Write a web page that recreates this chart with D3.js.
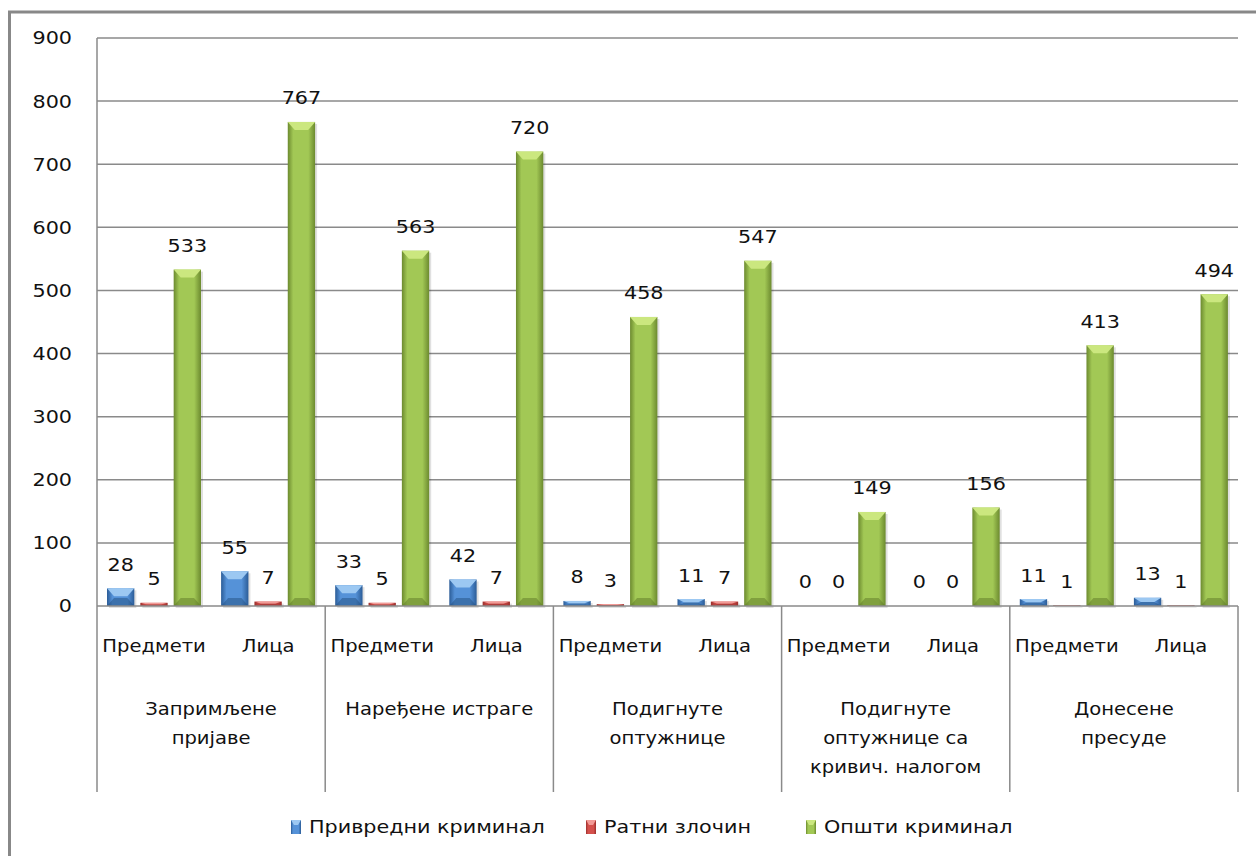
<!DOCTYPE html>
<html>
<head>
<meta charset="utf-8">
<script src="https://cdn.jsdelivr.net/npm/d3@7"></script>
<style>
  body { margin: 0; background: #fff; }
  text { font-family: "DejaVu Sans", Verdana, sans-serif; fill: #111; }
</style>
</head>
<body>
<svg id="chart" width="1256" height="856"></svg>
<script>
// chart data
var groups = ["Запримљене пријаве", "Наређене истраге", "Подигнуте оптужнице",
              "Подигнуте оптужнице са кривич. налогом", "Донесене пресуде"];
var groupLines = [["Запримљене", "пријаве"], ["Наређене истраге"], ["Подигнуте", "оптужнице"],
                  ["Подигнуте", "оптужнице са", "кривич. налогом"], ["Донесене", "пресуде"]];
var subs = ["Предмети", "Лица"];
var seriesNames = ["Привредни криминал", "Ратни злочин", "Општи криминал"];
var privredni = [28, 55, 33, 42, 8, 11, 0, 0, 11, 13];
var ratni     = [5, 7, 5, 7, 3, 7, 0, 0, 1, 1];
var opsti     = [533, 767, 563, 720, 458, 547, 149, 156, 413, 494];
var yTicks = [0, 100, 200, 300, 400, 500, 600, 700, 800, 900];

var series = [privredni, ratni, opsti];
var colors = [
  { mid: "#5592d8", edge: "#2b5c97", top: "#9cc8f2", bottom: "#24507f" },
  { mid: "#d4504c", edge: "#9b2f2c", top: "#f29a96", bottom: "#8a2825" },
  { mid: "#a2c855", edge: "#6c8a2f", top: "#cbe77f", bottom: "#5d7828" }
];

var svg = d3.select("#chart");
var plotLeft = 97, plotRight = 1238, plotTop = 38, zeroY = 606, axisBottom = 792;
var stretch = 1.15; // text in the reference is a bit wider than DejaVu

// outer frame (cropped by the picture)
svg.append("rect").attr("x", 9.5).attr("y", 12).attr("width", 1300).attr("height", 900)
  .attr("fill", "none").attr("stroke", "#888").attr("stroke-width", 3);

var y = d3.scaleLinear().domain([0, 900]).range([zeroY, plotTop]);

// columns: one per (group, sub) pair
var cols = [];
groups.forEach(function(g, gi) {
  subs.forEach(function(s, si) { cols.push(gi * subs.length + si); });
});
var x0 = d3.scaleBand().domain(cols).range([plotLeft, plotRight]).padding(0);
var x1 = d3.scaleBand().domain([0, 1, 2]).range([10, 104]).paddingInner(0.18);
var xg = d3.scaleBand().domain(d3.range(groups.length)).range([plotLeft, plotRight]).padding(0);

// gridlines
svg.append("g").selectAll("line").data(yTicks.slice(1)).enter().append("line")
  .attr("x1", plotLeft).attr("x2", plotRight)
  .attr("y1", function(d) { return y(d); }).attr("y2", function(d) { return y(d); })
  .attr("stroke", "#8a8a8a").attr("stroke-width", 1.5);

// y tick labels
svg.append("g").selectAll("text").data(yTicks).enter().append("text")
  .attr("x", 72).attr("y", function(d) { return y(d); })
  .attr("dy", "0.36em").attr("text-anchor", "end")
  .style("font-size", "18px")
  .text(function(d) { return d; });

// gradients
var defs = svg.append("defs");
colors.forEach(function(c, i) {
  var gr = defs.append("linearGradient").attr("id", "grad" + i)
    .attr("x1", "0").attr("x2", "1").attr("y1", "0").attr("y2", "0");
  gr.append("stop").attr("offset", "0%").attr("stop-color", c.edge);
  gr.append("stop").attr("offset", "20%").attr("stop-color", c.mid);
  gr.append("stop").attr("offset", "75%").attr("stop-color", c.mid);
  gr.append("stop").attr("offset", "100%").attr("stop-color", c.edge);
});

// bars
var bars = [];
series.forEach(function(vals, si) {
  vals.forEach(function(v, ci) { bars.push({ s: si, c: ci, v: v }); });
});

var barG = svg.append("g").selectAll("g").data(bars).enter().append("g")
  .attr("transform", function(d) { return "translate(" + (x0(d.c) + x1(d.s)) + ",0)"; });

var bw = x1.bandwidth();

barG.filter(function(d) { return d.v > 0; }).each(function(d) {
  var g = d3.select(this);
  var t = y(d.v), h = zeroY - t;
  var c = colors[d.s];
  // shadow
  g.append("rect").attr("x", 2).attr("y", t + 2).attr("width", bw).attr("height", h)
    .attr("fill", "#000").attr("opacity", 0.12);
  g.append("rect").attr("x", 0).attr("y", t).attr("width", bw).attr("height", h)
    .attr("fill", "url(#grad" + d.s + ")");
  var b = Math.min(8, h / 2), inset = Math.min(7, bw / 3);
  g.append("path")
    .attr("d", "M0," + t + "L" + bw + "," + t + "L" + (bw - inset) + "," + (t + b) +
               "L" + inset + "," + (t + b) + "Z")
    .attr("fill", c.top);
  g.append("path")
    .attr("d", "M0," + zeroY + "L" + bw + "," + zeroY + "L" + (bw - inset) + "," + (zeroY - b) +
               "L" + inset + "," + (zeroY - b) + "Z")
    .attr("fill", c.bottom).attr("opacity", 0.5);
});

// data labels
barG.append("text")
  .attr("x", bw / 2).attr("y", function(d) { return y(d.v) - 24; })
  .attr("dy", "0.36em").attr("text-anchor", "middle")
  .style("font-size", "18px")
  .text(function(d) { return d.v; });

// axes lines
svg.append("line").attr("x1", plotLeft).attr("x2", plotRight).attr("y1", zeroY).attr("y2", zeroY)
  .attr("stroke", "#8a8a8a").attr("stroke-width", 1.5);
svg.append("line").attr("x1", plotLeft).attr("x2", plotLeft).attr("y1", plotTop).attr("y2", axisBottom)
  .attr("stroke", "#8a8a8a").attr("stroke-width", 1.5);
svg.append("g").selectAll("line").data(d3.range(1, groups.length + 1)).enter().append("line")
  .attr("x1", function(d) { return d < groups.length ? xg(d) : plotRight; })
  .attr("x2", function(d) { return d < groups.length ? xg(d) : plotRight; })
  .attr("y1", zeroY).attr("y2", axisBottom)
  .attr("stroke", "#8a8a8a").attr("stroke-width", 1.5);

// sub-category labels
svg.append("g").selectAll("text").data(cols).enter().append("text")
  .attr("x", function(d) { return x0(d) + x0.bandwidth() / 2; })
  .attr("y", 646).attr("dy", "0.36em").attr("text-anchor", "middle")
  .style("font-size", "17px")
  .text(function(d) { return subs[d % subs.length]; });

// group labels
svg.append("g").selectAll("text").data(groupLines).enter().append("text")
  .attr("text-anchor", "middle").style("font-size", "17px")
  .each(function(lines, gi) {
    var el = d3.select(this);
    lines.forEach(function(line, li) {
      el.append("tspan").attr("x", xg(gi) + xg.bandwidth() / 2)
        .attr("y", 709 + li * 29).attr("dy", "0.36em").text(line);
    });
  });

// legend
var legendX = [291, 586, 806];
var leg = svg.append("g").selectAll("g").data(seriesNames).enter().append("g")
  .attr("transform", function(d, i) { return "translate(" + legendX[i] + ",827)"; });
leg.append("rect").attr("x", 0).attr("y", -7).attr("width", 10).attr("height", 14)
  .attr("fill", function(d, i) { return "url(#grad" + i + ")"; });
leg.append("path").attr("d", "M0,-7L10,-7L7,-2L3,-2Z")
  .attr("fill", function(d, i) { return colors[i].top; });
leg.append("text").attr("x", 18).attr("y", 0).attr("dy", "0.36em")
  .style("font-size", "18px")
  .text(function(d) { return d; });

// widen every text line a little to match the reference's wider face
svg.selectAll("text").each(function() {
  var el = d3.select(this);
  var parts = el.selectAll("tspan");
  if (parts.size()) {
    parts.each(function() {
      var w = this.getComputedTextLength();
      d3.select(this).attr("textLength", w * stretch).attr("lengthAdjust", "spacingAndGlyphs");
    });
  } else {
    var w = this.getComputedTextLength();
    el.attr("textLength", w * stretch).attr("lengthAdjust", "spacingAndGlyphs");
  }
});
</script>
</body>
</html>
